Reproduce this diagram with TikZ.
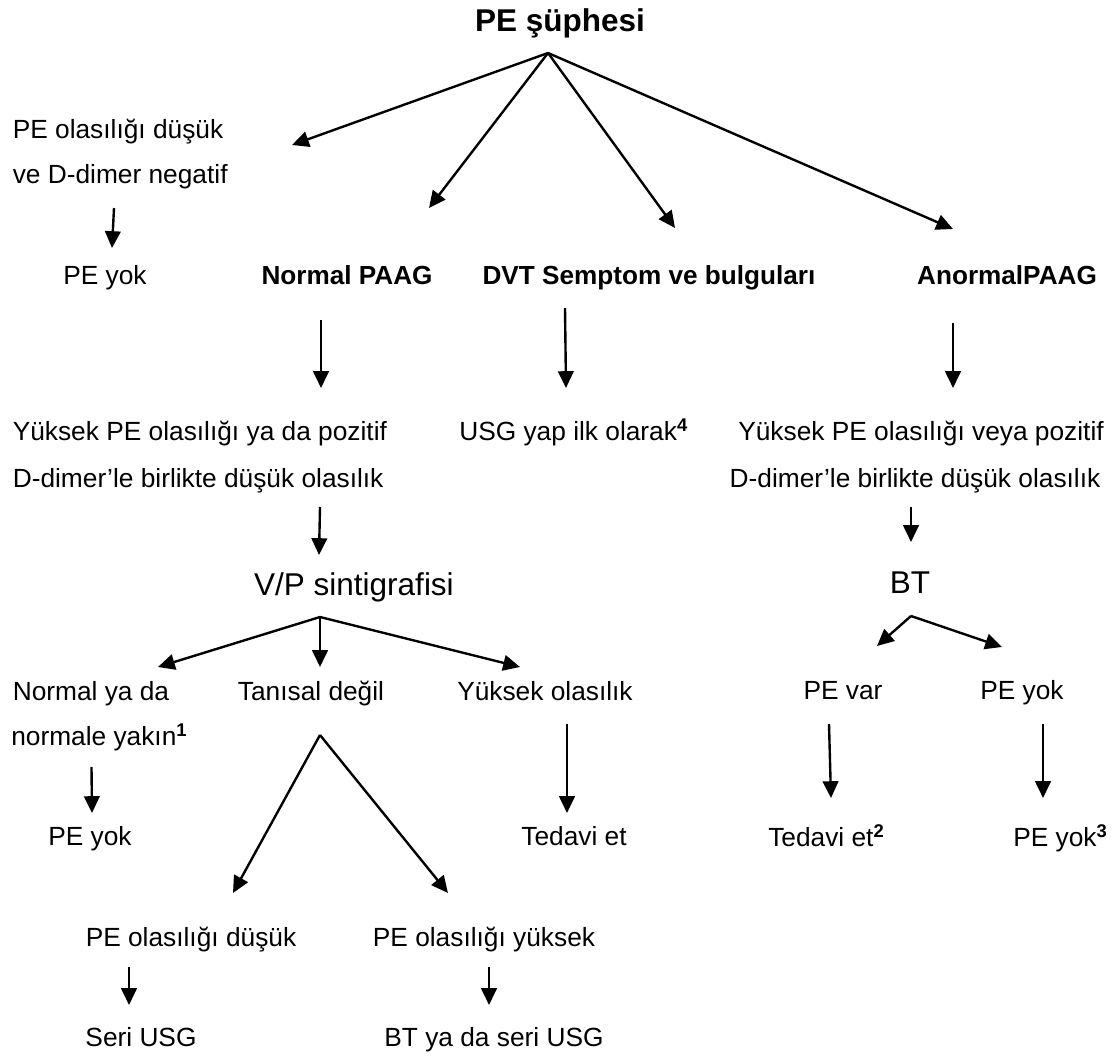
\documentclass[tikz,border=0pt]{standalone}
\usepackage{fontspec}
\setmainfont{Liberation Sans}
\usetikzlibrary{arrows.meta}

\begin{document}
\begin{tikzpicture}[
    x=0.025cm, y=-0.025cm,
    txt/.style={inner sep=0pt, font=\fontsize{18.7}{22}\selectfont},
    head/.style={inner sep=0pt, font=\fontsize{18.6}{22}\selectfont\bfseries},
    big/.style={inner sep=0pt, font=\fontsize{22.4}{26}\selectfont},
    title/.style={inner sep=0pt, font=\fontsize{22.4}{26}\selectfont\bfseries},
    arrow/.style={-{Triangle[length=0.42cm, width=0.39cm]}, line width=1.7pt}
]
\useasboundingbox (0,0) rectangle (1117,1056);

% Suspicion
\node[title, anchor=base] (root) at (560,32) {PE şüphesi};
\coordinate (rootfork) at (548,53);

% First level
\node[txt, anchor=base west] (low1) at (12.5,139) {PE olasılığı düşük};
\node[txt, anchor=base west] (low2) at (12.5,184) {ve D-dimer negatif};
\node[txt, anchor=base] (nope1) at (105,285) {PE yok};
\node[head, anchor=base] (normal) at (347,285) {Normal PAAG};
\node[head, anchor=base] (dvt) at (649,285) {DVT Semptom ve bulguları};
\node[head, anchor=base] (anormal) at (1007,285) {AnormalPAAG};

% Second level
\node[txt, anchor=base west] (high1) at (12.5,440) {Yüksek PE olasılığı ya da pozitif};
\node[txt, anchor=base west] (high2) at (12.5,487) {D-dimer’le birlikte düşük olasılık};
\node[txt, anchor=base west] (usg) at (459,440) {USG yap ilk olarak\textsuperscript{\bfseries 4}};
\node[txt, anchor=base] (highR1) at (921,440) {Yüksek PE olasılığı veya pozitif};
\node[txt, anchor=base] (highR2) at (915,487) {D-dimer’le birlikte düşük olasılık};

% Imaging
\node[big, anchor=base] (vp) at (354,595) {V/P sintigrafisi};
\coordinate (vpfork) at (320,617);
\node[big, anchor=base] (bt) at (910,593) {BT};
\coordinate (btfork) at (911,616);

% Scan results
\node[txt, anchor=base west] (near1) at (12.5,700) {Normal ya da};
\node[txt, anchor=base west] (near2) at (11,745) {normale yakın\textsuperscript{\bfseries 1}};
\node[txt, anchor=base] (nondiag) at (311,700) {Tanısal değil};
\coordinate (nondiagfork) at (320,735);
\node[txt, anchor=base west] (highprob) at (457,700) {Yüksek olasılık};
\node[txt, anchor=base] (pevar) at (843,699) {PE var};
\node[txt, anchor=base] (peyok) at (1022,699) {PE yok};

% Outcomes
\node[txt, anchor=base] (nope2) at (90,845) {PE yok};
\node[txt, anchor=base] (treat1) at (574,845) {Tedavi et};
\node[txt, anchor=base west] (treat2) at (768,846) {Tedavi et\textsuperscript{\bfseries 2}};
\node[txt, anchor=base west] (nope3) at (1013,846) {PE yok\textsuperscript{\bfseries 3}};
\node[txt, anchor=base] (lowpe) at (191,946) {PE olasılığı düşük};
\node[txt, anchor=base] (highpe) at (484,946) {PE olasılığı yüksek};
\node[txt, anchor=base] (serial) at (141,1046) {Seri USG};
\node[txt, anchor=base] (btserial) at (494,1046) {BT ya da seri USG};

% Arrow ends
\coordinate (a1) at (292,145);
\coordinate (a2) at (429,208);
\coordinate (a3) at (675,228);
\coordinate (a4) at (953,229);
\coordinate (b1s) at (114,208);   \coordinate (b1e) at (112,248);
\coordinate (b2s) at (321,320);   \coordinate (b2e) at (321,388);
\coordinate (b3s) at (565,308);   \coordinate (b3e) at (566,388);
\coordinate (b4s) at (953,323);   \coordinate (b4e) at (953,388);
\coordinate (c1s) at (320,507);   \coordinate (c1e) at (319,555);
\coordinate (c2s) at (911,507);   \coordinate (c2e) at (911,542);
\coordinate (d1) at (158,667);
\coordinate (d2) at (320,667);
\coordinate (d3) at (520,667);
\coordinate (e1) at (877,646);
\coordinate (e2) at (1002,647);
\coordinate (f1s) at (91.5,767);  \coordinate (f1e) at (92,813);
\coordinate (f2) at (233,893);
\coordinate (f3) at (448,893);
\coordinate (f4s) at (567,724);   \coordinate (f4e) at (567,813);
\coordinate (f5s) at (829,724);   \coordinate (f5e) at (831,798);
\coordinate (f6s) at (1043,724);  \coordinate (f6e) at (1043,798);
\coordinate (g1s) at (129,967);   \coordinate (g1e) at (129,1005);
\coordinate (g2s) at (489,967);   \coordinate (g2e) at (489,1005);

% Main branches
\draw[arrow] (rootfork) -- (a1);
\draw[arrow] (rootfork) -- (a2);
\draw[arrow] (rootfork) -- (a3);
\draw[arrow] (rootfork) -- (a4);

% Down arrows
\draw[arrow] (b1s) -- (b1e);
\draw[arrow] (b2s) -- (b2e);
\draw[arrow] (b3s) -- (b3e);
\draw[arrow] (b4s) -- (b4e);
\draw[arrow] (c1s) -- (c1e);
\draw[arrow] (c2s) -- (c2e);

% Scan branches
\draw[arrow] (vpfork) -- (d1);
\draw[arrow] (vpfork) -- (d2);
\draw[arrow] (vpfork) -- (d3);
\draw[arrow] (btfork) -- (e1);
\draw[arrow] (btfork) -- (e2);

% Results
\draw[arrow] (f1s) -- (f1e);
\draw[arrow] (nondiagfork) -- (f2);
\draw[arrow] (nondiagfork) -- (f3);
\draw[arrow] (f4s) -- (f4e);
\draw[arrow] (f5s) -- (f5e);
\draw[arrow] (f6s) -- (f6e);
\draw[arrow] (g1s) -- (g1e);
\draw[arrow] (g2s) -- (g2e);

\end{tikzpicture}
\end{document}
